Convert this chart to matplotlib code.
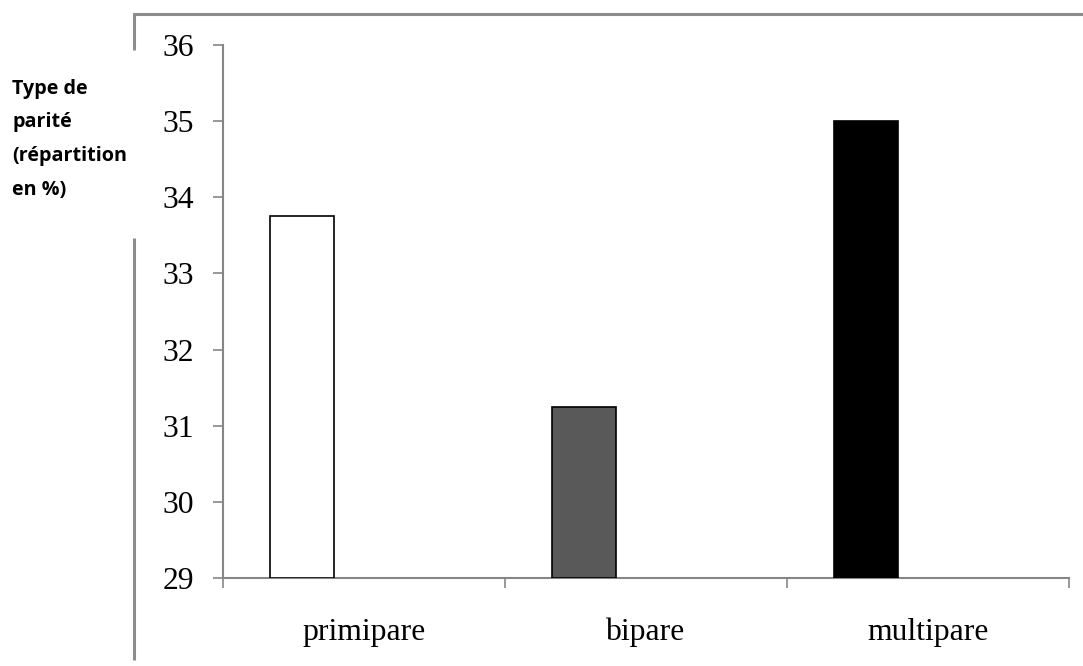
import matplotlib
matplotlib.use("Agg")
import matplotlib.pyplot as plt
from matplotlib.lines import Line2D
import numpy as np

categories = ["primipare", "bipare", "multipare"]
values = [33.75, 31.25, 35.0]
bar_colors = ["#ffffff", "#595959", "#000000"]
y_ticks = [29, 30, 31, 32, 33, 34, 35, 36]
axis_title = "Type de\nparité\n(répartition\nen %)"

W, H = 1083, 666
fig = plt.figure(figsize=(W / 100, H / 100), dpi=100)
ax = fig.add_axes([223 / W, 1 - 578 / H, (1069 - 223) / W, (578 - 45) / H])

axis_gray = "#868686"
x = np.arange(len(categories))
bar_w = 0.225
offset = -0.22
ax.bar(x + offset, [v - y_ticks[0] for v in values], bottom=y_ticks[0],
       width=bar_w, color=bar_colors, edgecolor="black", linewidth=1.2, zorder=3)

ax.set_xlim(-0.5, len(categories) - 0.5)
ax.set_ylim(y_ticks[0], y_ticks[-1])
ax.set_yticks(y_ticks)
ax.set_yticklabels([str(t) for t in y_ticks])

# category labels centred, boundary ticks between categories
ax.set_xticks(x)
ax.set_xticklabels(categories)
ax.set_xticks(np.arange(-0.5, len(categories)), minor=True)
ax.tick_params(axis="x", which="major", length=0, pad=28.5)
ax.tick_params(axis="x", which="minor", length=7, width=1.2, color=axis_gray,
               direction="out")
ax.tick_params(axis="y", length=7, width=1.2, color=axis_gray, direction="out", pad=14)

serif = ["Liberation Serif", "DejaVu Serif"]
for lab in ax.get_xticklabels() + ax.get_yticklabels():
    lab.set_fontfamily(serif)
    lab.set_fontsize(22.8)

for side in ("top", "right"):
    ax.spines[side].set_visible(False)
for side in ("left", "bottom"):
    ax.spines[side].set_color(axis_gray)
    ax.spines[side].set_linewidth(1.5)

# outer frame of the chart area
frame_gray = "#8c8c8c"
def fline(xs, ys):
    fig.add_artist(Line2D([v / W for v in xs], [1 - v / H for v in ys],
                          color=frame_gray, linewidth=2.2, solid_capstyle="butt"))
fline([133, W], [14, 14])
fline([134, 134], [13, 50])
fline([134, 134], [238, 660])

fig.text(12 / W, 1 - 79 / H, axis_title, ha="left", va="top",
         fontsize=14.2, fontweight="bold", family=["Open Sans", "DejaVu Sans"],
         linespacing=1.9)

fig.savefig("out.png", dpi=100, facecolor="white")
